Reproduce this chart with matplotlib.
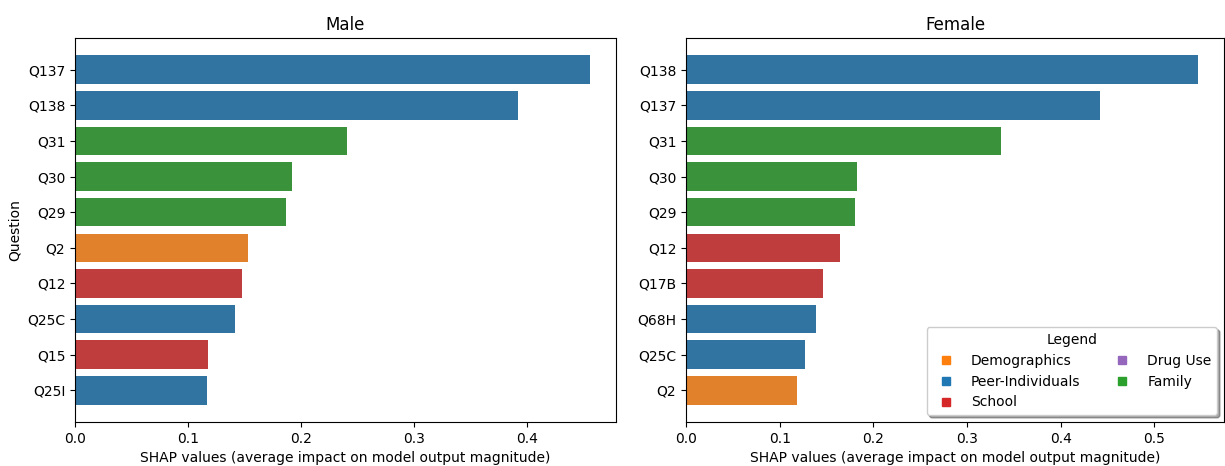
import matplotlib.pyplot as plt
from matplotlib.lines import Line2D
import seaborn as sns

# Category colours (tab10) and the desaturated versions used for bars
cat_colors = {
    'Demographics': '#ff7f0e',
    'Peer-Individuals': '#1f77b4',
    'School': '#d62728',
    'Drug Use': '#9467bd',
    'Family': '#2ca02c',
}

male_q = ['Q137', 'Q138', 'Q31', 'Q30', 'Q29', 'Q2', 'Q12', 'Q25C', 'Q15', 'Q25I']
male_shap = [0.456, 0.392, 0.241, 0.192, 0.187, 0.153, 0.148, 0.142, 0.1175, 0.1165]
male_cat = ['Peer-Individuals', 'Peer-Individuals', 'Family', 'Family', 'Family',
            'Demographics', 'School', 'Peer-Individuals', 'School', 'Peer-Individuals']

female_q = ['Q138', 'Q137', 'Q31', 'Q30', 'Q29', 'Q12', 'Q17B', 'Q68H', 'Q25C', 'Q2']
female_shap = [0.547, 0.442, 0.336, 0.183, 0.180, 0.164, 0.146, 0.139, 0.127, 0.119]
female_cat = ['Peer-Individuals', 'Peer-Individuals', 'Family', 'Family', 'Family',
              'School', 'School', 'Peer-Individuals', 'Peer-Individuals', 'Demographics']


def bar_color(cat):
    return sns.desaturate(cat_colors[cat], 0.75)


fig = plt.figure(figsize=(12.25, 4.66), dpi=100)
ax1 = fig.add_axes([75 / 1225, 1 - 422 / 466, (616 - 75) / 1225, 384 / 466])
ax2 = fig.add_axes([686 / 1225, 1 - 422 / 466, (1224 - 686) / 1225, 384 / 466])

for ax, qs, vals, cats, title in [(ax1, male_q, male_shap, male_cat, 'Male'),
                                  (ax2, female_q, female_shap, female_cat, 'Female')]:
    ax.barh(qs, vals, height=0.8, color=[bar_color(c) for c in cats])
    ax.invert_yaxis()
    ax.set_title(title, fontsize=12)
    ax.set_xlabel('SHAP values (average impact on model output magnitude)')

ax1.set_ylabel('Question')

handles = [Line2D([0], [0], marker='s', linestyle='', color=c, markersize=6, label=name)
           for name, c in cat_colors.items()]
ax2.legend(handles=handles, title='Legend', ncol=2, loc='lower right',
           shadow=True, fancybox=True, fontsize=10)

plt.savefig('out.png', dpi=100)
